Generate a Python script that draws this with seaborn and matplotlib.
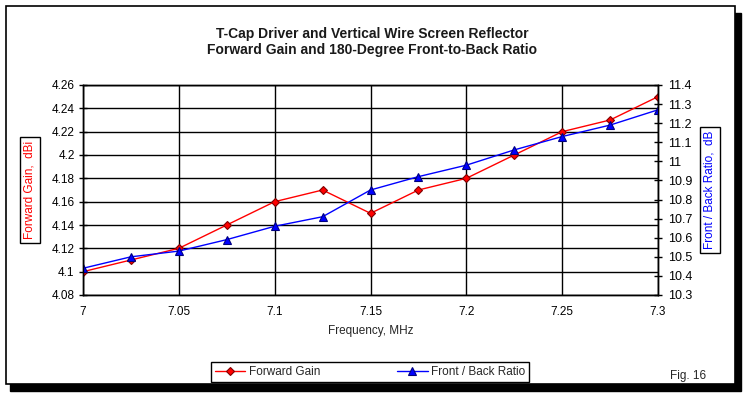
import matplotlib
matplotlib.use("Agg")
import matplotlib.pyplot as plt
import numpy as np
import pandas as pd
import seaborn as sns
from matplotlib.patches import Rectangle
from matplotlib.ticker import FuncFormatter

# data
freq_mhz = [7.0, 7.025, 7.05, 7.075, 7.1, 7.125, 7.15, 7.175, 7.2, 7.225, 7.25, 7.275, 7.3]
forward_gain = [4.10, 4.11, 4.12, 4.14, 4.16, 4.17, 4.15, 4.17, 4.18, 4.20, 4.22, 4.23, 4.25]
front_back = [10.44, 10.50, 10.53, 10.59, 10.66, 10.71, 10.85, 10.92, 10.98, 11.06, 11.13, 11.19, 11.27]

x_ticks = [7.0, 7.05, 7.1, 7.15, 7.2, 7.25, 7.3]
gain_ticks = [4.08, 4.10, 4.12, 4.14, 4.16, 4.18, 4.20, 4.22, 4.24, 4.26]
fb_ticks = [10.3, 10.4, 10.5, 10.6, 10.7, 10.8, 10.9, 11.0, 11.1, 11.2, 11.3, 11.4]

sns.set_theme(style="white")
plt.rcParams["font.family"] = ["Liberation Sans", "DejaVu Sans"]

df = pd.DataFrame({"freq": freq_mhz, "gain": forward_gain, "fb": front_back})

fig = plt.figure(figsize=(7.44, 3.96), dpi=100)
W, H = 744, 396

# frame with a thin drop shadow
fig.patches.append(Rectangle((10 / W, 5 / H), 731 / W, 378 / H, transform=fig.transFigure,
                             facecolor="black", edgecolor="black", zorder=-2))
fig.patches.append(Rectangle((6 / W, 12 / H), 729 / W, 378 / H, transform=fig.transFigure,
                             facecolor="white", edgecolor="black", lw=1.2, zorder=-1))

ax = fig.add_axes([83 / W, 1 - 295 / H, (658 - 83) / W, (295 - 85) / H])
ax.set_facecolor("white")
ax2 = ax.twinx()

sns.lineplot(data=df, x="freq", y="gain", ax=ax, color="red", lw=1, marker="D", markersize=4,
             markeredgecolor="#800000", markeredgewidth=0.8, label="Forward Gain", legend=False)
sns.lineplot(data=df, x="freq", y="fb", ax=ax2, color="blue", lw=1, marker="^", markersize=6,
             markeredgecolor="#000080", markeredgewidth=0.8, label="Front / Back Ratio", legend=False)

ax.set_xlim(7.0, 7.3)
ax.set_ylim(4.08, 4.26)
ax2.set_ylim(10.3, 11.4)
ax.set_xticks(x_ticks)
ax.set_yticks(gain_ticks)
ax2.set_yticks(fb_ticks)
ax.xaxis.set_major_formatter(FuncFormatter(lambda v, p: f"{v:g}"))
ax.yaxis.set_major_formatter(FuncFormatter(lambda v, p: f"{round(v, 2):g}"))
ax2.yaxis.set_major_formatter(FuncFormatter(lambda v, p: f"{round(v, 1):g}"))

ax.grid(True, color="black", lw=1)
ax2.grid(False)
ax.set_axisbelow(True)
for a in (ax, ax2):
    for s in a.spines.values():
        s.set_color("black")
        s.set_linewidth(1)
ax.tick_params(axis="y", direction="inout", length=6, width=1, labelsize=8.5, colors="black", pad=3)
ax.tick_params(axis="x", direction="inout", length=0, labelsize=8.5, colors="black", pad=8)
ax2.tick_params(axis="y", direction="inout", length=6, width=1, labelsize=9, colors="black", pad=4)

ax.set_xlabel("Frequency, MHz", fontsize=8.5, labelpad=5)
ax.set_ylabel("")
ax2.set_ylabel("")

box = dict(boxstyle="square,pad=0.35", facecolor="white", edgecolor="black", lw=1)
fig.text(30 / W, 1 - 190 / H, "Forward Gain,  dBi", rotation=90, color="red", fontsize=8.5,
         ha="center", va="center", bbox=box)
fig.text(710 / W, 1 - 190 / H, "Front / Back Ratio,  dB", rotation=90, color="blue", fontsize=8.5,
         ha="center", va="center", bbox=box)

fig.text(372 / W, 1 - 42 / H, "T-Cap Driver and Vertical Wire Screen Reflector\nForward Gain and 180-Degree Front-to-Back Ratio",
         ha="center", va="center", fontsize=10, fontweight="bold", color="#1a1a1a", linespacing=1.2)
fig.text(688 / W, 1 - 376 / H, "Fig. 16", ha="center", va="center", fontsize=8.5)

h1, l1 = ax.get_legend_handles_labels()
h2, l2 = ax2.get_legend_handles_labels()
leg = fig.legend(h1 + h2, l1 + l2, loc="center", bbox_to_anchor=(370 / W, 1 - 372 / H), ncol=2,
                 fontsize=8.5, frameon=True, fancybox=False, edgecolor="black", framealpha=1,
                 columnspacing=6.5, handlelength=2.6, handletextpad=0.3, borderpad=0.3)
leg.get_frame().set_linewidth(1)

fig.savefig("out.png", dpi=100)
